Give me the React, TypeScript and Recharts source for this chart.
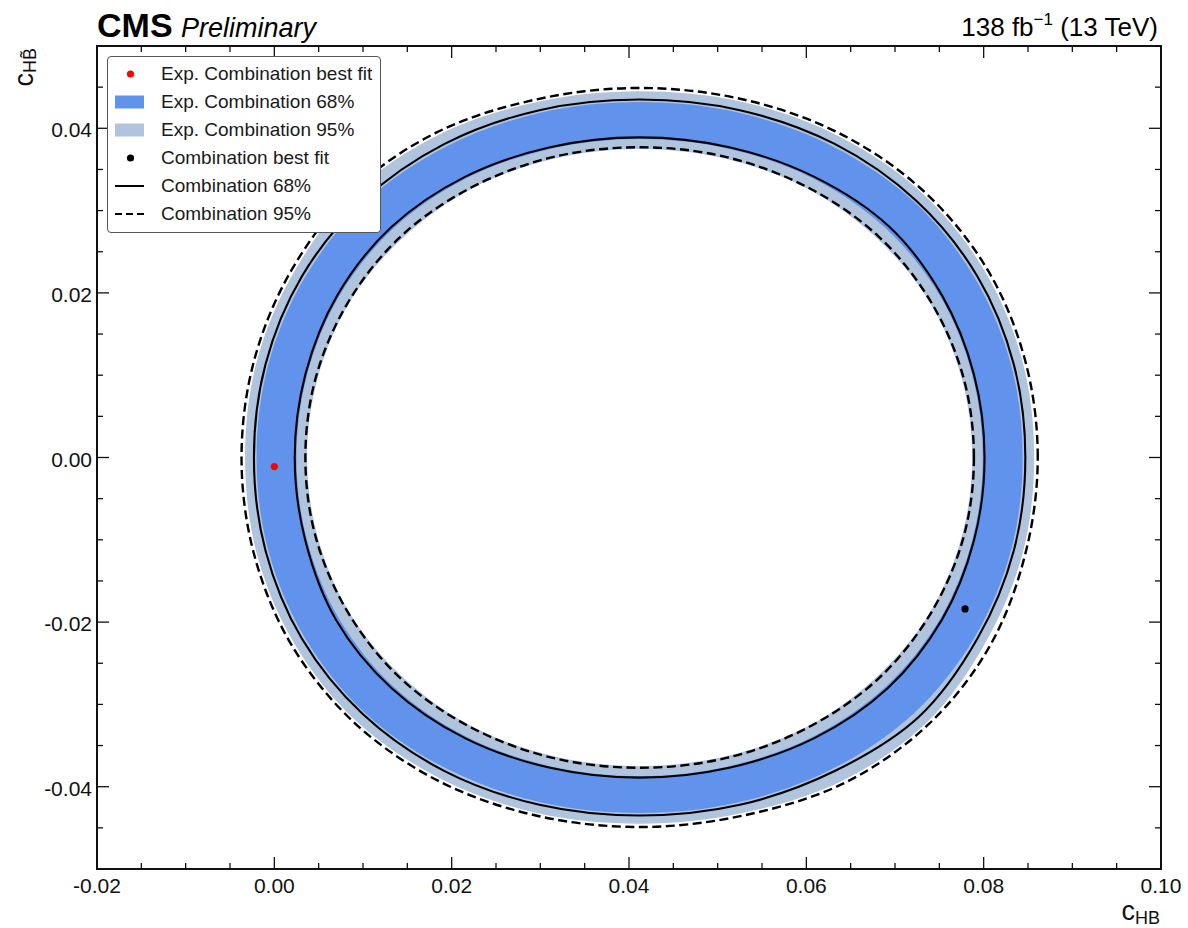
import React from 'react'
import { ScatterChart, Scatter, XAxis, YAxis, Legend } from 'recharts'

type Pt = [number, number]

// contours in (cHB, cHBtilde), counter-clockwise from the +x side
const EXP_95_OUTER: Pt[] = [
  [0.0857, 0.0], [0.0844, 0.0116], [0.0802, 0.0225], [0.0732, 0.032], [0.0637, 0.039], [0.0528, 0.0432],
  [0.0412, 0.0445], [0.0296, 0.0432], [0.0185, 0.0392], [0.009, 0.0322], [0.0022, 0.0225], [-0.002, 0.0116],
  [-0.0033, 0.0], [-0.002, -0.0116], [0.0022, -0.0225], [0.0092, -0.032], [0.0187, -0.039], [0.0296, -0.0432],
  [0.0412, -0.0445], [0.0528, -0.0432], [0.064, -0.0393], [0.0735, -0.0323], [0.0802, -0.0225], [0.0844, -0.0116]
]
const EXP_68_OUTER: Pt[] = [
  [0.0844, 0.0], [0.0831, 0.0112], [0.079, 0.0218], [0.0722, 0.031], [0.063, 0.0378], [0.0524, 0.0419],
  [0.0412, 0.0432], [0.03, 0.0419], [0.0194, 0.0378], [0.0102, 0.031], [0.0034, 0.0218], [-0.0007, 0.0112],
  [-0.002, 0.0], [-0.0007, -0.0112], [0.0034, -0.0218], [0.0102, -0.031], [0.0194, -0.0378], [0.03, -0.0419],
  [0.0412, -0.0432], [0.0524, -0.0419], [0.063, -0.0378], [0.0722, -0.031], [0.079, -0.0218], [0.0831, -0.0112]
]
const EXP_68_INNER: Pt[] = [
  [0.0799, 0.0], [0.0787, 0.0101], [0.0751, 0.0196], [0.069, 0.0278], [0.0608, 0.0339], [0.0513, 0.0375],
  [0.0412, 0.0387], [0.0311, 0.0375], [0.0216, 0.0339], [0.0134, 0.0278], [0.0073, 0.0196], [0.0037, 0.0101],
  [0.0025, 0.0], [0.0037, -0.0101], [0.0073, -0.0196], [0.0134, -0.0278], [0.0216, -0.0339], [0.0311, -0.0375],
  [0.0412, -0.0387], [0.0513, -0.0375], [0.0608, -0.0339], [0.069, -0.0278], [0.0751, -0.0196], [0.0787, -0.0101]
]
const EXP_95_INNER: Pt[] = [
  [0.0787, 0.0], [0.0775, 0.0097], [0.0739, 0.0189], [0.0679, 0.0267], [0.0601, 0.0327], [0.0509, 0.0363],
  [0.0412, 0.0375], [0.0315, 0.0363], [0.0223, 0.0327], [0.0145, 0.0267], [0.0085, 0.0189], [0.0049, 0.0097],
  [0.0037, 0.0], [0.0049, -0.0097], [0.0085, -0.0189], [0.0145, -0.0267], [0.0223, -0.0327], [0.0315, -0.0363],
  [0.0412, -0.0375], [0.0509, -0.0363], [0.0601, -0.0327], [0.0679, -0.0267], [0.0739, -0.0189], [0.0775, -0.0097]
]
const COMB_68_OUTER: Pt[] = [
  [0.0847, 0.0], [0.0834, 0.0113], [0.0793, 0.022], [0.0724, 0.0312], [0.0632, 0.0381], [0.0525, 0.0422],
  [0.0412, 0.0435], [0.0299, 0.0422], [0.0192, 0.0381], [0.01, 0.0312], [0.0031, 0.022], [-0.001, 0.0113],
  [-0.0023, 0.0], [-0.001, -0.0113], [0.0031, -0.022], [0.01, -0.0312], [0.0192, -0.0381], [0.0299, -0.0422],
  [0.0412, -0.0435], [0.0525, -0.0422], [0.0632, -0.0381], [0.0727, -0.0315], [0.0793, -0.022], [0.0834, -0.0113]
]
const COMB_68_INNER: Pt[] = [
  [0.0801, 0.0], [0.0789, 0.0101], [0.0753, 0.0197], [0.0693, 0.0281], [0.0609, 0.0341], [0.0513, 0.0377],
  [0.0412, 0.0389], [0.0311, 0.0377], [0.0215, 0.0341], [0.0132, 0.028], [0.0071, 0.0197], [0.0035, 0.0101],
  [0.0023, 0.0], [0.0035, -0.0101], [0.007, -0.0198], [0.0132, -0.028], [0.0215, -0.0341], [0.0311, -0.0377],
  [0.0412, -0.0389], [0.0513, -0.0377], [0.0609, -0.0341], [0.0692, -0.028], [0.0753, -0.0197], [0.0789, -0.0101]
]
const COMB_95_OUTER: Pt[] = [
  [0.0861, 0.0], [0.0847, 0.0117], [0.0805, 0.0227], [0.0734, 0.0322], [0.0639, 0.0393], [0.0529, 0.0435],
  [0.0412, 0.0449], [0.0295, 0.0435], [0.0183, 0.0395], [0.0088, 0.0324], [0.0019, 0.0227], [-0.0023, 0.0117],
  [-0.0037, 0.0], [-0.0023, -0.0117], [0.0019, -0.0227], [0.009, -0.0322], [0.0185, -0.0393], [0.0295, -0.0435],
  [0.0412, -0.0449], [0.0529, -0.0435], [0.0642, -0.0396], [0.0737, -0.0325], [0.0807, -0.0229], [0.0847, -0.0117]
]
const COMB_95_INNER: Pt[] = [
  [0.0789, 0.0], [0.0777, 0.0098], [0.074, 0.019], [0.0681, 0.0269], [0.0602, 0.0328], [0.051, 0.0365],
  [0.0412, 0.0377], [0.0314, 0.0365], [0.0222, 0.0328], [0.0143, 0.0269], [0.0084, 0.019], [0.0047, 0.0098],
  [0.0035, 0.0], [0.0047, -0.0098], [0.0084, -0.019], [0.0143, -0.0269], [0.0222, -0.0328], [0.0314, -0.0365],
  [0.0412, -0.0377], [0.051, -0.0365], [0.0602, -0.0328], [0.0681, -0.0269], [0.074, -0.019], [0.0777, -0.0098]
]

const EXP_BEST_FIT: Pt[] = [[0.0, -0.0011]]
const COMB_BEST_FIT: Pt[] = [[0.0779, -0.0184]]

const X_TICKS = [
  -0.02, -0.015, -0.01, -0.005, 0, 0.005, 0.01, 0.015, 0.02, 0.025, 0.03, 0.035, 0.04,
  0.045, 0.05, 0.055, 0.06, 0.065, 0.07, 0.075, 0.08, 0.085, 0.09, 0.095, 0.1
]
const Y_TICKS = [
  -0.05, -0.045, -0.04, -0.035, -0.03, -0.025, -0.02, -0.015, -0.01, -0.005, 0,
  0.005, 0.01, 0.015, 0.02, 0.025, 0.03, 0.035, 0.04, 0.045, 0.05
]

const LEGEND_LABELS = [
  'Exp. Combination best fit',
  'Exp. Combination 68%',
  'Exp. Combination 95%',
  'Combination best fit',
  'Combination 68%',
  'Combination 95%'
]

const FONT = '"Liberation Sans", Arial, Helvetica, sans-serif'
const DARK_BLUE = '#6193ec'
const LIGHT_BLUE = '#b0c4de'
const INK = '#111'

const toXY = (pts: Pt[]) => pts.map(([x, y]) => ({ x, y }))

// closed Catmull-Rom through the scaled contour points
function closedSpline(pts: { x: number; y: number }[]): string {
  const n = pts.length
  let d = `M${pts[0].x},${pts[0].y}`
  for (let i = 0; i < n; i++) {
    const p0 = pts[(i - 1 + n) % n]
    const p1 = pts[i]
    const p2 = pts[(i + 1) % n]
    const p3 = pts[(i + 2) % n]
    const c1x = p1.x + (p2.x - p0.x) / 6
    const c1y = p1.y + (p2.y - p0.y) / 6
    const c2x = p2.x - (p3.x - p1.x) / 6
    const c2y = p2.y - (p3.y - p1.y) / 6
    d += `C${c1x},${c1y} ${c2x},${c2y} ${p2.x},${p2.y}`
  }
  return d + 'Z'
}

const contour = (style: React.SVGProps<SVGPathElement>) => (props: any) => (
  <path d={closedSpline(props.points)} {...style} />
)

const SOLID = { fill: 'none', stroke: '#000', strokeWidth: 2.1 }
const DASHED = { fill: 'none', stroke: '#000', strokeWidth: 2.4, strokeDasharray: '9 4.5' }

const NoMarker = () => <g />
const dot = (color: string) => (props: any) => <circle cx={props.cx} cy={props.cy} r={3.6} fill={color} />

const isMajor = (v: number) => Math.abs(v * 50 - Math.round(v * 50)) < 1e-6
const tickLen = (v: number) => (isMajor(v) ? 12 : 6)
const fmt = (v: number) => (Math.abs(v) < 1e-9 ? '0.00' : v.toFixed(2))

function BottomTick({ x, y, payload }: any) {
  const v = payload.value
  return (
    <g>
      <line x1={x} x2={x} y1={y} y2={y - tickLen(v)} stroke={INK} strokeWidth={1.3} />
      {isMajor(v) && (
        <text x={x} y={y + 24} textAnchor="middle" fontSize={21} fontFamily={FONT} fill={INK}>
          {fmt(v)}
        </text>
      )}
    </g>
  )
}

function TopTick({ x, y, payload }: any) {
  return <line x1={x} x2={x} y1={y} y2={y + tickLen(payload.value)} stroke={INK} strokeWidth={1.3} />
}

function LeftTick({ x, y, payload }: any) {
  const v = payload.value
  const showLabel = isMajor(v) && Math.abs(v) < 0.045
  return (
    <g>
      <line x1={x} x2={x + tickLen(v)} y1={y} y2={y} stroke={INK} strokeWidth={1.3} />
      {showLabel && (
        <text x={x - 5} y={y + 9} textAnchor="end" fontSize={21} fontFamily={FONT} fill={INK}>
          {fmt(v)}
        </text>
      )}
    </g>
  )
}

function RightTick({ x, y, payload }: any) {
  return <line x1={x} x2={x - tickLen(payload.value)} y1={y} y2={y} stroke={INK} strokeWidth={1.3} />
}

function XTitle({ viewBox }: any) {
  const { x, y, width } = viewBox
  return (
    <text x={x + width - 1} y={y + 51} textAnchor="end" fontFamily={FONT} fill={INK}>
      <tspan fontSize={27}>c</tspan>
      <tspan fontSize={18} dy={4}>HB</tspan>
    </text>
  )
}

function YTitle({ viewBox }: any) {
  const { x, y } = viewBox
  return (
    <text
      transform={`translate(${x - 24},${y + 2}) rotate(-90)`}
      textAnchor="end"
      fontFamily={FONT}
      fill={INK}
    >
      <tspan fontSize={27}>c</tspan>
      <tspan fontSize={18} dy={3}>{'HB\u0303'}</tspan>
    </text>
  )
}

function legendSymbol(i: number) {
  switch (i) {
    case 0:
      return <circle cx={22.5} cy={14} r={3.6} fill="#ff0000" />
    case 1:
      return <rect x={7} y={7.5} width={29} height={13} fill={DARK_BLUE} />
    case 2:
      return <rect x={7} y={7.5} width={29} height={13} fill={LIGHT_BLUE} />
    case 3:
      return <circle cx={22.5} cy={14} r={3.6} fill="#000" />
    case 4:
      return <line x1={7} x2={36} y1={14} y2={14} stroke="#000" strokeWidth={2} />
    default:
      return <line x1={7} x2={36} y1={14} y2={14} stroke="#000" strokeWidth={2} strokeDasharray="7 4" />
  }
}

function LegendBox() {
  return (
    <div
      style={{
        width: 272,
        border: '1px solid #555',
        borderRadius: 4,
        background: '#fff',
        padding: '3px 0 4px',
        fontFamily: FONT,
        fontSize: 19,
        color: '#1a1a1a'
      }}
    >
      {LEGEND_LABELS.map((label, i) => (
        <div key={label} style={{ display: 'flex', alignItems: 'center', height: 28 }}>
          <svg width={53} height={28} style={{ flex: 'none' }}>
            {legendSymbol(i)}
          </svg>
          <span style={{ whiteSpace: 'nowrap' }}>{label}</span>
        </div>
      ))}
    </div>
  )
}

const axisLine = { stroke: INK, strokeWidth: 2, strokeLinecap: 'square' as const }

export default function App(): JSX.Element {
  return (
    <div style={{ position: 'absolute', left: 0, top: 0, width: 1188, height: 928, background: '#fff' }}>
      <ScatterChart width={1188} height={928} margin={{ top: 36, right: 17, bottom: 29, left: 57 }}>
        <XAxis
          type="number"
          dataKey="x"
          domain={[-0.02, 0.1]}
          allowDataOverflow
          ticks={X_TICKS}
          interval={0}
          height={30}
          tickSize={0}
          tickMargin={0}
          tickLine={false}
          tick={BottomTick}
          axisLine={axisLine}
          label={{ content: XTitle }}
        />
        <XAxis
          xAxisId="top"
          orientation="top"
          type="number"
          dataKey="x"
          domain={[-0.02, 0.1]}
          allowDataOverflow
          ticks={X_TICKS}
          interval={0}
          height={10}
          tickSize={0}
          tickMargin={0}
          tickLine={false}
          tick={TopTick}
          axisLine={axisLine}
        />
        <YAxis
          type="number"
          dataKey="y"
          domain={[-0.05, 0.05]}
          allowDataOverflow
          ticks={Y_TICKS}
          interval={0}
          width={40}
          tickSize={0}
          tickMargin={0}
          tickLine={false}
          tick={LeftTick}
          axisLine={axisLine}
          label={{ content: YTitle }}
        />
        <YAxis
          yAxisId="right"
          orientation="right"
          type="number"
          dataKey="y"
          domain={[-0.05, 0.05]}
          allowDataOverflow
          ticks={Y_TICKS}
          interval={0}
          width={10}
          tickSize={0}
          tickMargin={0}
          tickLine={false}
          tick={RightTick}
          axisLine={axisLine}
        />

        {/* expected bands, stacked from the outside in */}
        <Scatter data={toXY(EXP_95_OUTER)} shape={NoMarker} line={contour({ fill: LIGHT_BLUE })} isAnimationActive={false} legendType="none" />
        <Scatter data={toXY(EXP_68_OUTER)} shape={NoMarker} line={contour({ fill: DARK_BLUE })} isAnimationActive={false} legendType="none" />
        <Scatter data={toXY(EXP_68_INNER)} shape={NoMarker} line={contour({ fill: LIGHT_BLUE })} isAnimationActive={false} legendType="none" />
        <Scatter data={toXY(EXP_95_INNER)} shape={NoMarker} line={contour({ fill: '#fff' })} isAnimationActive={false} legendType="none" />

        {/* observed contours */}
        <Scatter data={toXY(COMB_68_OUTER)} shape={NoMarker} line={contour(SOLID)} isAnimationActive={false} legendType="none" />
        <Scatter data={toXY(COMB_68_INNER)} shape={NoMarker} line={contour(SOLID)} isAnimationActive={false} legendType="none" />
        <Scatter data={toXY(COMB_95_OUTER)} shape={NoMarker} line={contour(DASHED)} isAnimationActive={false} legendType="none" />
        <Scatter data={toXY(COMB_95_INNER)} shape={NoMarker} line={contour(DASHED)} isAnimationActive={false} legendType="none" />

        <Scatter data={toXY(EXP_BEST_FIT)} shape={dot('#ff0000')} isAnimationActive={false} legendType="none" />
        <Scatter data={toXY(COMB_BEST_FIT)} shape={dot('#000')} isAnimationActive={false} legendType="none" />

        <Legend
          layout="horizontal"
          verticalAlign="middle"
          align="center"
          wrapperStyle={{ left: 107, top: 56, width: 274, height: 'auto' }}
          content={LegendBox}
        />
      </ScatterChart>

      <svg width={1188} height={60} style={{ position: 'absolute', left: 0, top: 0, pointerEvents: 'none' }}>
        <text x={97} y={37} fontFamily={FONT} fontWeight="bold" fontSize={34} fill="#000">
          CMS
        </text>
        <text x={181} y={37} fontFamily={FONT} fontStyle="italic" fontSize={27} fill="#000">
          Preliminary
        </text>
        <text x={1158} y={36} textAnchor="end" fontFamily={FONT} fontSize={26} fill="#000">
          138 fb
          <tspan fontSize={17} dy={-11}>−1</tspan>
          <tspan dy={11}> (13 TeV)</tspan>
        </text>
      </svg>
    </div>
  )
}
